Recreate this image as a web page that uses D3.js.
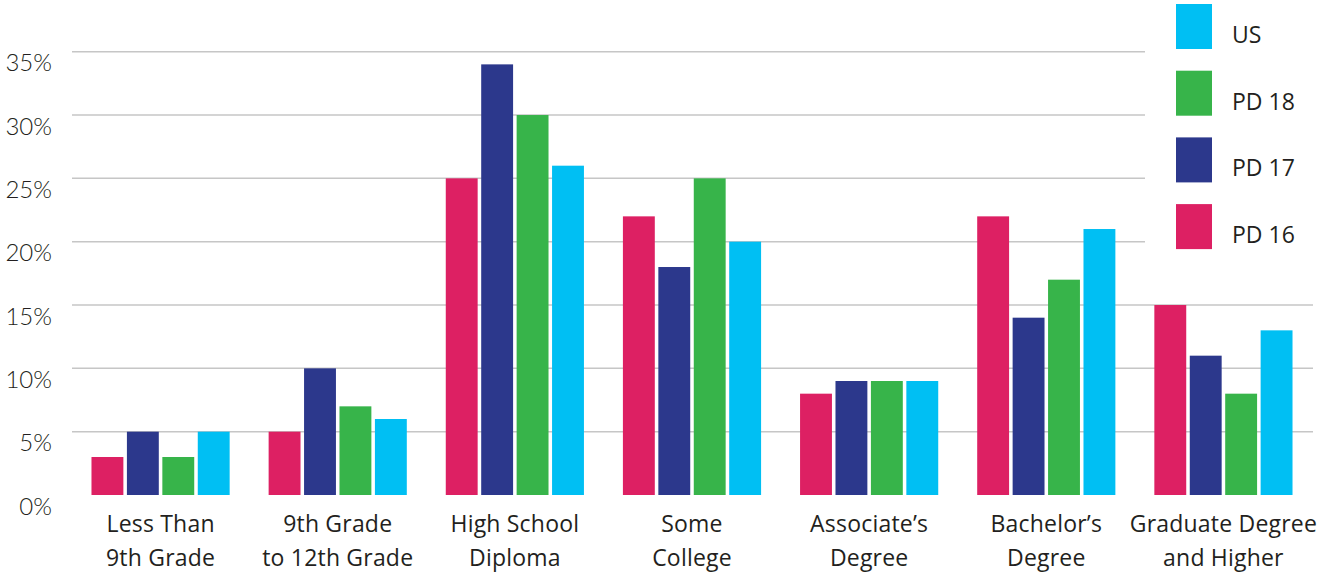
<!DOCTYPE html>
<html>
<head>
<meta charset="utf-8">
<script src="https://cdn.jsdelivr.net/npm/d3@7"></script>
<style>
  html, body { margin: 0; padding: 0; background: #fff; }
  svg { display: block; }
  text { font-family: "Open Sans", Lato, sans-serif; fill: #231f20; }
</style>
</head>
<body>
<svg id="chart" width="1323" height="573"></svg>
<script>
// Educational attainment, share of adults by district
const categories = [
  ["Less Than", "9th Grade"],
  ["9th Grade", "to 12th Grade"],
  ["High School", "Diploma"],
  ["Some", "College"],
  ["Associate’s", "Degree"],
  ["Bachelor’s", "Degree"],
  ["Graduate Degree", "and Higher"]
];
const seriesNames = ["PD 16", "PD 17", "PD 18", "US"];
const pd16 = [3, 5, 25, 22, 8, 22, 15];
const pd17 = [5, 10, 34, 18, 9, 14, 11];
const pd18 = [3, 7, 30, 25, 9, 17, 8];
const us   = [5, 6, 26, 20, 9, 21, 13];
const yTicks = [0, 5, 10, 15, 20, 25, 30, 35];
const colors = ["#dd2063", "#2c388c", "#37b44a", "#00bff3"];

const seriesValues = [pd16, pd17, pd18, us];
const svg = d3.select("#chart");

const x0 = d3.scaleBand()
  .domain(d3.range(categories.length))
  .range([72, 1312])
  .paddingInner(0.22)
  .paddingOuter(0.11);

const x1 = d3.scaleBand()
  .domain(d3.range(seriesNames.length))
  .range([0, x0.bandwidth()])
  .paddingInner(0.1);

const y = d3.scaleLinear().domain([0, 35]).range([495, 51.7]);

// Horizontal gridlines; upper ones stop short of the legend
svg.append("g")
  .selectAll("line")
  .data(yTicks.filter(d => d > 0))
  .join("line")
  .attr("x1", 72)
  .attr("x2", d => d >= 20 ? 1145 : 1313)
  .attr("y1", d => y(d))
  .attr("y2", d => y(d))
  .attr("stroke", "#c6c6c6")
  .attr("stroke-width", 1.5);

// Y axis labels, hanging just below each gridline
const yAxis = d3.axisLeft(y)
  .tickValues(yTicks)
  .tickFormat(d => d + "%")
  .tickSize(0)
  .tickPadding(0);

const yg = svg.append("g")
  .attr("transform", "translate(52,0)")
  .call(yAxis);
yg.select(".domain").remove();
yg.selectAll("text")
  .attr("font-size", 24)
  .attr("dy", "0.8em")
  .style("font-family", "Lato, sans-serif")
  .style("font-weight", 300)
  .attr("fill", "#231f20");

// Bars
const groups = svg.append("g")
  .selectAll("g")
  .data(categories.map((c, i) => i))
  .join("g")
  .attr("transform", i => `translate(${x0(i)},0)`);

groups.selectAll("rect")
  .data(i => seriesValues.map((vals, s) => ({ s, v: vals[i] })))
  .join("rect")
  .attr("x", d => x1(d.s))
  .attr("width", x1.bandwidth())
  .attr("y", d => y(d.v))
  .attr("height", d => y(0) - y(d.v))
  .attr("fill", d => colors[d.s]);

// Category labels (two lines each)
const xg = svg.append("g");
categories.forEach((lines, i) => {
  const cx = x0(i) + x0.bandwidth() / 2;
  const t = xg.append("text")
    .attr("x", cx)
    .attr("y", 532)
    .attr("text-anchor", "middle")
    .attr("font-size", 23)
    .attr("letter-spacing", 0.2);
  lines.forEach((ln, k) => {
    t.append("tspan")
      .attr("x", cx)
      .attr("dy", k === 0 ? 0 : 34)
      .text(ln);
  });
});

// Legend, top to bottom in reverse series order
const legendOrder = [3, 2, 1, 0];
const lg = svg.append("g").attr("transform", "translate(1176,4)");
legendOrder.forEach((s, k) => {
  const row = lg.append("g").attr("transform", `translate(0,${k * 66.7})`);
  row.append("rect")
    .attr("width", 36)
    .attr("height", 45)
    .attr("fill", colors[s]);
  row.append("text")
    .attr("x", 56)
    .attr("y", 39)
    .attr("font-size", 23)
    .text(seriesNames[s]);
});
</script>
</body>
</html>
